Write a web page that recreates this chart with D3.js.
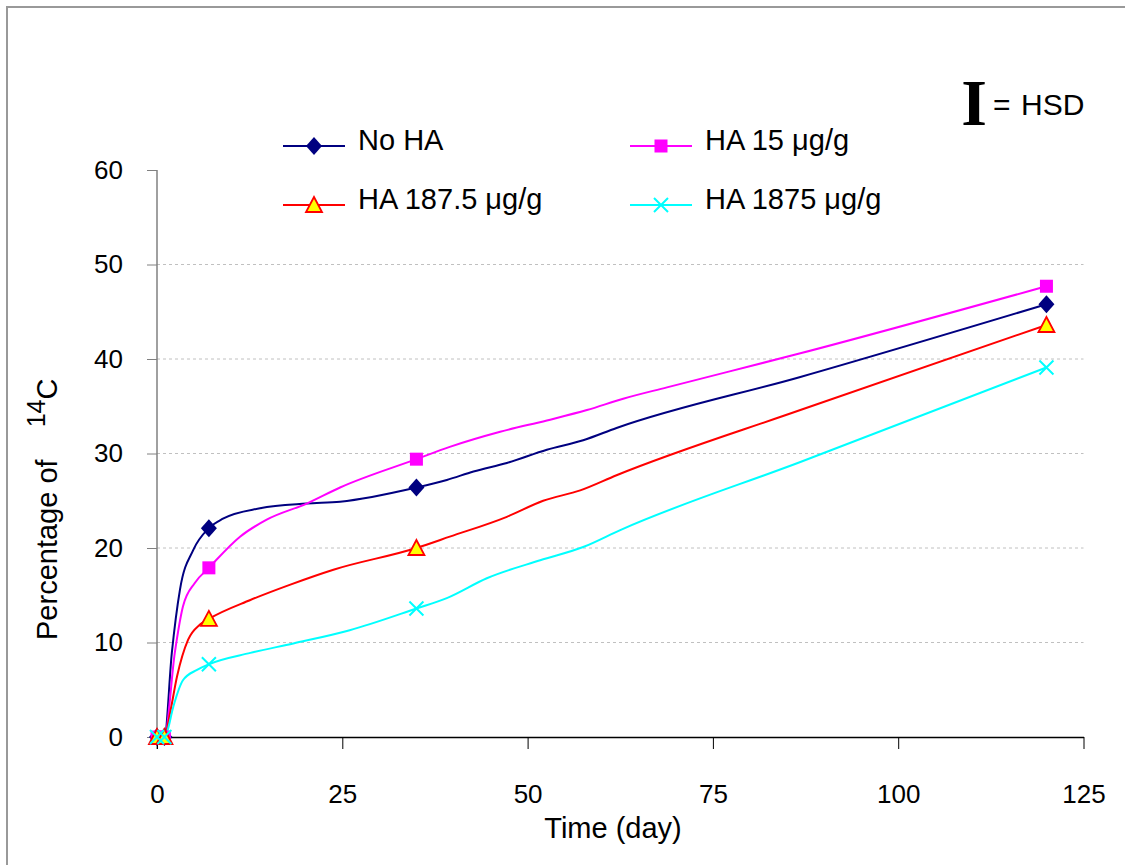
<!DOCTYPE html>
<html lang="en">
<head>
    <meta charset="UTF-8">
    <title>Percentage of 14C</title>
    <script src="https://d3js.org/d3.v7.min.js"></script>
    <style>
        body { margin: 0; background: #fff; }
        text { font-family: "Liberation Sans", Arial, sans-serif; }
        text.serif { font-family: "Liberation Serif", "Times New Roman", serif; }
    </style>
</head>
<body>
<svg width="1125" height="865"></svg>

<script>
    var days = [0, 1, 7, 35, 120];
    var noHA = [0, 0, 22.1, 26.4, 45.8];
    var ha15 = [0, 0, 17.9, 29.4, 47.7];
    var ha187 = [0, 0, 12.5, 20.0, 43.6];
    var ha1875 = [0, 0, 7.7, 13.6, 39.1];

    // extra [day, value] points
    var noHATrace = [[2, 8.9], [3.1, 15.6], [4.9, 19.8], [8.9, 23.1], [13.9, 24.2], [20.2, 24.7], [24.7, 24.9],
        [39.1, 27.2], [42.7, 28.1], [47.2, 29.0], [52.6, 30.4], [57.5, 31.4], [62, 32.7], [86.8, 38.1]];
    var ha15Trace = [[2.4, 8.9], [3.5, 13.8], [5.1, 16.3], [11.2, 21.2], [14.8, 23.0], [20.2, 24.7], [24.7, 26.4],
        [39.5, 30.7], [46.3, 32.3], [52.6, 33.5], [58, 34.6], [62.9, 35.8], [68.8, 37.0], [86.8, 40.6]];
    var ha187Trace = [[1.75, 2.5], [2.7, 6.4], [4.2, 10.3], [5.8, 11.9], [12.6, 14.5], [17.9, 16.1], [23.8, 17.7],
        [39.5, 21.2], [47.2, 23.3], [52.1, 25.0], [57.1, 26.1], [62, 27.7], [86.8, 34.6]];
    var ha1875Trace = [[1.3, 0.4], [2.2, 3.2], [3.5, 6.0], [5.4, 7.1], [12.6, 8.9], [18.4, 9.9], [26, 11.3],
        [39.1, 14.7], [44.5, 16.8], [51.7, 18.7], [57.5, 20.1], [62.5, 21.9], [86.8, 29.1]];

    var xTicks = [0, 25, 50, 75, 100, 125];
    var yTicks = [0, 10, 20, 30, 40, 50, 60];
    var gridTicks = [10, 20, 30, 40, 50];

    var series = [
        {name: "No HA", values: noHA, trace: noHATrace, color: "#000080", marker: "diamond"},
        {name: "HA 15 μg/g", values: ha15, trace: ha15Trace, color: "#ff00ff", marker: "square"},
        {name: "HA 187.5 μg/g", values: ha187, trace: ha187Trace, color: "#ff0000", marker: "triangle"},
        {name: "HA 1875 μg/g", values: ha1875, trace: ha1875Trace, color: "#00ffff", marker: "cross"}
    ];

    var svg = d3.select("svg");

    var x = d3.scaleLinear().domain([0, 125]).range([157, 1083.5]);
    var y = d3.scaleLinear().domain([0, 60]).range([737, 170]);

    // outer frame
    svg.append("path")
        .attr("d", "M7,865V7H1125")
        .attr("fill", "none")
        .attr("stroke", "#999")
        .attr("stroke-width", 2);

    // gridlines
    svg.append("g")
        .selectAll("line")
        .data(gridTicks)
        .enter().append("line")
        .attr("x1", x(0)).attr("x2", x(125))
        .attr("y1", function (d) { return y(d); })
        .attr("y2", function (d) { return y(d); })
        .attr("stroke", "#c0c0c0")
        .attr("stroke-dasharray", "3,3");

    // y axis
    var yAxis = svg.append("g")
        .attr("transform", "translate(" + x(0) + ",0)")
        .call(d3.axisLeft(y).tickValues(yTicks).tickSize(10).tickPadding(24));
    yAxis.select(".domain").remove();
    yAxis.selectAll("line").attr("stroke", "#808080");
    yAxis.selectAll("text").attr("font-size", 26).attr("fill", "#000");
    svg.append("line")
        .attr("x1", x(0)).attr("x2", x(0))
        .attr("y1", y(60)).attr("y2", y(0) + 12)
        .attr("stroke", "#808080")
        .attr("stroke-width", 1.5);

    // x axis
    var xAxis = svg.append("g")
        .attr("transform", "translate(0," + y(0) + ")")
        .call(d3.axisBottom(x).tickValues(xTicks).tickSize(12).tickSizeOuter(0).tickPadding(36));
    xAxis.select(".domain").attr("stroke", "#000").attr("stroke-width", 1.5);
    xAxis.selectAll("line").attr("stroke", "#000");
    xAxis.selectAll("text").attr("font-size", 26).attr("fill", "#000");

    svg.append("text")
        .attr("x", 613).attr("y", 838)
        .attr("text-anchor", "middle")
        .attr("font-size", 29)
        .text("Time (day)");

    var yTitle = svg.append("text")
        .attr("transform", "translate(57,640) rotate(-90)")
        .attr("font-size", 29);
    yTitle.append("tspan").text("Percentage of ");
    yTitle.append("tspan").attr("dx", 24).attr("dy", -12).attr("font-size", 25).text("14");
    yTitle.append("tspan").attr("dy", 12).text("C");

    var line = d3.line()
        .x(function (d) { return x(d[0]); })
        .y(function (d) { return y(d[1]); })
        .curve(d3.curveMonotoneX);

    function drawMarker (g, type, color) {
        if (type === "diamond") {
            g.append("path").attr("d", "M0,-9L8,0L0,9L-8,0Z").attr("fill", color);
        } else if (type === "square") {
            g.append("rect").attr("x", -6.5).attr("y", -6.5).attr("width", 13).attr("height", 13).attr("fill", color);
        } else if (type === "triangle") {
            g.append("path").attr("d", "M0,-8L8,7H-8Z").attr("fill", "#ffff00")
                .attr("stroke", color).attr("stroke-width", 1.8);
        } else {
            g.append("path").attr("d", "M-7,-7L7,7M-7,7L7,-7").attr("stroke", color).attr("stroke-width", 2);
        }
    }

    var plot = svg.append("g");
    series.forEach(function (s) {
        var pts = days.map(function (d, i) { return [d, s.values[i]]; })
            .concat(s.trace)
            .sort(function (a, b) { return a[0] - b[0]; });
        plot.append("path")
            .datum(pts)
            .attr("fill", "none")
            .attr("stroke", s.color)
            .attr("stroke-width", 2)
            .attr("d", line);
    });
    series.forEach(function (s) {
        days.forEach(function (d, i) {
            var g = plot.append("g")
                .attr("transform", "translate(" + x(d) + "," + y(s.values[i]) + ")");
            drawMarker(g, s.marker, s.color);
        });
    });

    // legend
    var legendPos = [[283, 146], [630, 146], [283, 205], [630, 205]];
    series.forEach(function (s, i) {
        var g = svg.append("g")
            .attr("transform", "translate(" + legendPos[i][0] + "," + legendPos[i][1] + ")");
        g.append("line").attr("x1", 0).attr("x2", 62)
            .attr("stroke", s.color).attr("stroke-width", 2);
        drawMarker(g.append("g").attr("transform", "translate(31,0)"), s.marker, s.color);
        g.append("text").attr("x", 75).attr("y", 4).attr("font-size", 29).text(s.name);
    });

    // HSD key
    svg.append("text")
        .attr("class", "serif")
        .attr("x", 974).attr("y", 125)
        .attr("text-anchor", "middle")
        .attr("font-weight", "bold")
        .attr("font-size", 66)
        .text("I");
    svg.append("text")
        .attr("x", 993).attr("y", 115)
        .attr("font-size", 30)
        .text("=");
    svg.append("text")
        .attr("x", 1021).attr("y", 115)
        .attr("font-size", 30)
        .text("HSD");
</script>

</body>
</html>
